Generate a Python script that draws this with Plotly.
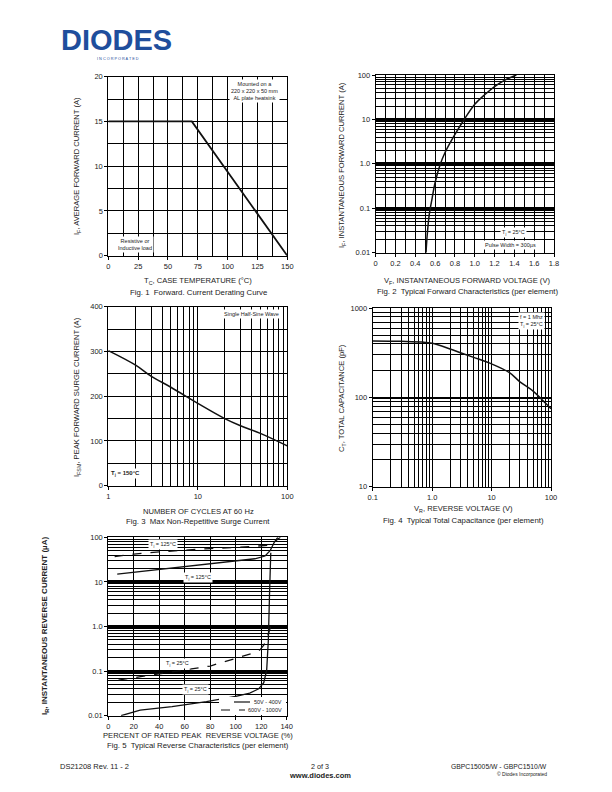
import plotly.graph_objects as go

FONT = "Liberation Sans"
W, H = 612, 792

# ---------------- data ----------------
# Fig 1: derating curve
fig1_temp = [0, 70, 150]
fig1_current = [15, 15, 0]
fig1_xticks = [0, 25, 50, 75, 100, 125, 150]
fig1_yticks = [0, 5, 10, 15, 20]

# Fig 2: forward characteristics
fig2_vf = [0.508, 0.52, 0.54, 0.57, 0.60, 0.65, 0.70, 0.80, 0.90, 1.00, 1.10, 1.20, 1.30, 1.42]
fig2_if = [0.01, 0.025, 0.07, 0.17, 0.38, 0.95, 1.8, 4.6, 10.5, 22, 36, 55, 76, 100]
fig2_xticks = [0, 0.2, 0.4, 0.6, 0.8, 1.0, 1.2, 1.4, 1.6, 1.8]
fig2_xticktext = ["0", "0.2", "0.4", "0.6", "0.8", "1.0", "1.2", "1.4", "1.6", "1.8"]
fig2_yticks = [0.01, 0.1, 1, 10, 100]
fig2_yticktext = ["0.01", "0.1", "1.0", "10", "100"]

# Fig 3: surge current
fig3_cycles = [1, 2, 3, 5, 10, 20, 30, 50, 100]
fig3_ifsm = [302, 270, 245, 220, 184, 150, 134, 117, 89]
fig3_xticks = [1, 10, 100]
fig3_yticks = [0, 100, 200, 300, 400]

# Fig 4: capacitance
fig4_vr = [0.1, 0.3, 0.7, 1, 2, 3, 5, 10, 20, 30, 50, 70, 100]
fig4_ct = [430, 426, 418, 405, 350, 318, 282, 238, 190, 150, 118, 95, 75]
fig4_xticks = [0.1, 1, 10, 100]
fig4_xticktext = ["0.1", "1.0", "10", "100"]
fig4_yticks = [10, 100, 1000]

# Fig 5: reverse characteristics
fig5_pct_hi_solid = [7, 20, 40, 60, 80, 100, 115, 123, 127, 130, 133]
fig5_ir_hi_solid = [15, 16.5, 19, 22, 25.5, 29.5, 33, 38, 50, 75, 100]
fig5_pct_hi_dash = [5, 20, 40, 60, 80, 100, 115, 125, 130, 135]
fig5_ir_hi_dash = [37, 42, 47, 52, 56, 59, 62, 66, 78, 100]
fig5_pct_25_solid = [10, 25, 50, 77, 100, 111, 118, 122, 124.3, 125.6, 126.5, 127.5]
fig5_ir_25_solid = [0.01, 0.0134, 0.016, 0.0206, 0.027, 0.032, 0.04, 0.055, 0.105, 0.5, 5, 45]
fig5_pct_25_dash = [8, 30, 51, 80, 103, 113, 119, 122, 124, 126, 127.5]
fig5_ir_25_dash = [0.063, 0.08, 0.097, 0.13, 0.21, 0.25, 0.3, 0.38, 0.5, 0.75, 1.0]
fig5_xticks = [0, 20, 40, 60, 80, 100, 120, 140]
fig5_yticks = [0.01, 0.1, 1, 10, 100]
fig5_yticktext = ["0.01", "0.1", "1.0", "10", "100"]
fig5_legend_names = ["50V - 400V", "600V - 1000V"]


def log_minor(e0, e1):
    return [m * 10 ** e for e in range(e0, e1) for m in range(2, 10)]


def dom_x(a, b):
    return [a / W, b / W]


def dom_y(top, bottom):
    return [1 - bottom / H, 1 - top / H]


def axis(domain, rng, anchor, typ="linear", tickvals=None, ticktext=None,
         minor_vals=None, minor_dtick=None, gw=1.0, mgw=0.8):
    d = dict(domain=domain, range=rng, type=typ, anchor=anchor, automargin=False,
             showline=True, mirror=True, linecolor="black", linewidth=1,
             ticks="outside", ticklen=3, tickcolor="black", tickwidth=1,
             tickfont=dict(family=FONT, size=7.5, color="#222"),
             showgrid=True, gridcolor="black", gridwidth=gw,
             zeroline=False, fixedrange=True)
    if tickvals is not None:
        d.update(tickmode="array", tickvals=tickvals,
                 ticktext=ticktext if ticktext is not None else [str(v) for v in tickvals])
    if minor_vals is not None:
        d["minor"] = dict(tickmode="array", tickvals=minor_vals, showgrid=True,
                          gridcolor="black", gridwidth=mgw, ticks="")
    elif minor_dtick is not None:
        d["minor"] = dict(dtick=minor_dtick, showgrid=True,
                          gridcolor="black", gridwidth=mgw, ticks="")
    return d


fig = go.Figure()
LC = "#111"

fig.add_trace(go.Scatter(x=fig1_temp, y=fig1_current, mode="lines",
                         line=dict(color=LC, width=1.8), xaxis="x", yaxis="y"))
fig.add_trace(go.Scatter(x=fig2_vf, y=fig2_if, mode="lines", line_shape="spline",
                         line=dict(color=LC, width=1.5), xaxis="x2", yaxis="y2"))
fig.add_trace(go.Scatter(x=fig3_cycles, y=fig3_ifsm, mode="lines", line_shape="spline",
                         line=dict(color=LC, width=1.5), xaxis="x3", yaxis="y3"))
fig.add_trace(go.Scatter(x=fig4_vr, y=fig4_ct, mode="lines", line_shape="spline",
                         line=dict(color=LC, width=1.5), xaxis="x4", yaxis="y4"))
fig.add_trace(go.Scatter(x=fig5_pct_hi_solid, y=fig5_ir_hi_solid, mode="lines",
                         line=dict(color=LC, width=1.3), xaxis="x5", yaxis="y5"))
fig.add_trace(go.Scatter(x=fig5_pct_hi_dash, y=fig5_ir_hi_dash, mode="lines",
                         line=dict(color=LC, width=1.3, dash="dash"), xaxis="x5", yaxis="y5"))
fig.add_trace(go.Scatter(x=fig5_pct_25_solid, y=fig5_ir_25_solid, mode="lines",
                         line=dict(color=LC, width=1.3), xaxis="x5", yaxis="y5"))
fig.add_trace(go.Scatter(x=fig5_pct_25_dash, y=fig5_ir_25_dash, mode="lines",
                         line=dict(color=LC, width=1.3, dash="dash"), xaxis="x5", yaxis="y5"))

layout = dict(
    template="none",
    width=W, height=H, margin=dict(l=0, r=0, t=0, b=0, autoexpand=False),
    paper_bgcolor="white", plot_bgcolor="white", showlegend=False,
    font=dict(family=FONT, color="#222", size=7),
)
# Fig 1
layout["xaxis"] = axis(dom_x(108.3, 287.3), [0, 150], "y", tickvals=fig1_xticks, minor_dtick=12.5)
layout["yaxis"] = axis(dom_y(76.7, 255.7), [0, 20], "x", tickvals=fig1_yticks, minor_dtick=2.5)
# Fig 2
layout["xaxis2"] = axis(dom_x(375.7, 554), [0, 1.8], "y2", tickvals=fig2_xticks,
                        ticktext=fig2_xticktext, minor_dtick=0.1)
layout["yaxis2"] = axis(dom_y(75, 252.7), [-2, 2], "x2", typ="log", tickvals=fig2_yticks,
                        ticktext=fig2_yticktext, minor_vals=log_minor(-2, 2), gw=2.5)
# Fig 3
layout["xaxis3"] = axis(dom_x(108.3, 287.3), [0, 2], "y3", typ="log", tickvals=fig3_xticks,
                        minor_vals=log_minor(0, 2))
layout["yaxis3"] = axis(dom_y(306.7, 485.7), [0, 400], "x3", tickvals=fig3_yticks, minor_dtick=50)
# Fig 4
layout["xaxis4"] = axis(dom_x(372.7, 551), [-1, 2], "y4", typ="log", tickvals=fig4_xticks,
                        ticktext=fig4_xticktext, minor_vals=log_minor(-1, 2))
layout["yaxis4"] = axis(dom_y(308.3, 486.7), [1, 3], "x4", typ="log", tickvals=fig4_yticks,
                        minor_vals=log_minor(1, 3), gw=1.8)
# Fig 5
layout["xaxis5"] = axis(dom_x(108.3, 286.7), [0, 140], "y5", tickvals=fig5_xticks)
layout["yaxis5"] = axis(dom_y(537.3, 715.7), [-2, 2], "x5", typ="log", tickvals=fig5_yticks,
                        ticktext=fig5_yticktext, minor_vals=log_minor(-2, 2), gw=3)

fig.update_layout(**layout)

ann = []


def text(x, y, s, size=7, angle=0, bg=None, xanchor="center", color="#222", align="center"):
    a = dict(x=x / W, y=1 - y / H, xref="paper", yref="paper", text=s, showarrow=False,
             font=dict(family=FONT, size=size, color=color), textangle=angle,
             xanchor=xanchor, yanchor="middle", align=align)
    if bg:
        a.update(bgcolor=bg, borderpad=1)
    ann.append(a)


# Header logo
text(117, 40, "<b>DIODES</b>", size=29, color="#1f4e9c")
text(118, 59, "I N C O R P O R A T E D", size=3.8, color="#1f4e9c")

# Fig 1
text(254, 91, "Mounted on a<br>220 x 220 x 50 mm<br>AL plate heatsink", size=5.5, bg="white")
text(135, 244, "Resistive or<br>Inductive load", size=5.5, bg="white")
text(198, 281, "T<sub>C</sub>, CASE TEMPERATURE (°C)", size=7.6)
text(198, 292, "Fig. 1  Forward. Current Derating Curve", size=7.8)
text(77, 166, "I<sub>F</sub>, AVERAGE FORWARD CURRENT (A)", size=7.6, angle=-90)

# Fig 2
text(513, 232, "T<sub>j</sub> = 25°C", size=5.5, bg="white")
text(510, 245, "Pulse Width = 300µs", size=5.5, bg="white")
text(467, 281, "V<sub>F</sub>, INSTANTANEOUS FORWARD VOLTAGE (V)", size=7.6)
text(467, 291, "Fig. 2  Typical Forward Characteristics (per element)", size=7.8)
text(342, 165, "I<sub>F</sub>, INSTANTANEOUS FORWARD CURRENT (A)", size=7.6, angle=-90)

# Fig 3
text(251, 314, "Single Half-Sine Wave", size=5.5, bg="white")
text(125, 473, "<b>T<sub>j</sub> = 150°C</b>", size=6, bg="white")
text(198, 511, "NUMBER OF CYCLES AT 60 Hz", size=7.6)
text(198, 521, "Fig. 3  Max Non-Repetitive Surge Current", size=7.8)
text(77, 397, "I<sub>FSM</sub>, PEAK FORWARD SURGE CURRENT (A)", size=7.6, angle=-90)

# Fig 4
text(531, 321, "f = 1 Mhz<br>T<sub>j</sub> = 25°C", size=5.5, bg="white")
text(463, 509, "V<sub>R</sub>, REVERSE VOLTAGE (V)", size=7.6)
text(463, 520, "Fig. 4  Typical Total Capacitance (per element)", size=7.8)
text(342, 398, "C<sub>T</sub>, TOTAL CAPACITANCE (pF)", size=7.6, angle=-90)

# Fig 5
text(163, 544, "T<sub>j</sub> = 125°C", size=5.5, bg="white")
text(198, 577, "T<sub>j</sub> = 125°C", size=5.5, bg="white")
text(177, 663, "T<sub>j</sub> = 25°C", size=5.5, bg="white")
text(196, 689, "T<sub>j</sub> = 25°C", size=5.5, bg="white")
text(198, 735, "PERCENT OF RATED PEAK  REVERSE VOLTAGE (%)", size=7.6)
text(198, 745, "Fig. 5  Typical Reverse Characteristics (per element)", size=7.8)
text(45, 626, "<b>I<sub>R</sub>, INSTANTANEOUS REVERSE CURRENT (µA)</b>", size=8, angle=-90)
# Fig 5 key box
text(284, 702, fig5_legend_names[0], size=5.5, xanchor="right")
text(284, 710, fig5_legend_names[1], size=5.5, xanchor="right")

# Footer
text(58, 766, "DS21208 Rev. 11 - 2", size=7.5, xanchor="left")
text(320, 766, "2 of 3", size=7.2)
text(320, 775, "<b>www.diodes.com</b>", size=7.5)
text(549, 766, "GBPC15005/W - GBPC1510/W", size=6.8, xanchor="right")
text(549, 774, "© Diodes Incorporated", size=5, xanchor="right")

shapes = [
    dict(type="rect", xref="paper", yref="paper", x0=219 / W, x1=286 / W,
         y0=1 - 715 / H, y1=1 - 697 / H, fillcolor="white", line=dict(width=0), layer="above"),
    dict(type="line", xref="paper", yref="paper", x0=234 / W, x1=250 / W,
         y0=1 - 702 / H, y1=1 - 702 / H, line=dict(color=LC, width=1.2), layer="above"),
    dict(type="line", xref="paper", yref="paper", x0=221 / W, x1=245 / W,
         y0=1 - 710 / H, y1=1 - 710 / H, line=dict(color=LC, width=1.2, dash="dash"), layer="above"),
]

fig.update_layout(annotations=ann, shapes=shapes)
fig.write_html("out.html", config={"displayModeBar": False},
               post_script="document.body.style.margin='0';document.body.style.overflow='hidden';")
